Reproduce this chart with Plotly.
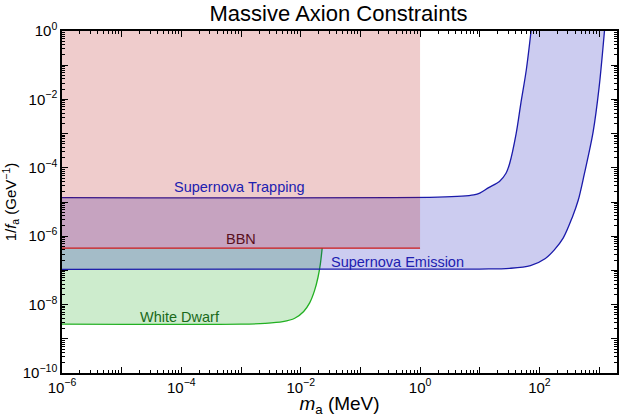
import plotly.graph_objects as go

# ---- data (values in MeV and GeV^-1) ----
wd_mass_exp = [-6, -3, -2.6, -2.3, -2.1, -1.95, -1.85, -1.77, -1.71, -1.67, -1.64]
wd_coup_exp = [-8.57, -8.57, -8.55, -8.5, -8.4, -8.2, -7.95, -7.6, -7.2, -6.8, -6.35]

bbn_mass = [1e-6, 1.0]
bbn_coup = 10 ** -6.35
top_coup = 1.0

sn_low_mass_exp = [-6, 1.0, 1.5, 1.85, 2.1, 2.25, 2.4, 2.55, 2.65, 2.75, 2.9, 3.0, 3.09]
sn_low_coup_exp = [-6.97, -6.96, -6.94, -6.86, -6.65, -6.4, -6.05, -5.45, -4.95, -4.2, -2.95, -1.65, 0]

sn_up_mass_exp = [-6, 0.3, 0.7, 0.9, 1.0, 1.15, 1.33, 1.44, 1.5, 1.61, 1.69, 1.78, 1.86]
sn_up_coup_exp = [-4.87, -4.86, -4.83, -4.79, -4.74, -4.58, -4.40, -4.16, -3.88, -3.0, -2.1, -1.14, 0]

labels = ["Supernova Trapping", "BBN", "White Dwarf", "Supernova Emission"]
label_x_exp = [-3.02, -3.0, -4.02, -0.37]
label_y_exp = [-4.56, -6.08, -8.35, -6.75]
label_colors = ["#2020b0", "#5a1020", "#1a6a1a", "#2020b0"]

x_tick_exp = list(range(-6, 4))
y_tick_exp = list(range(-10, 1))

# ---- derived ----
wd_m = [10 ** e for e in wd_mass_exp]
wd_c = [10 ** e for e in wd_coup_exp]
snl_m = [10 ** e for e in sn_low_mass_exp]
snl_c = [10 ** e for e in sn_low_coup_exp]
snu_m = [10 ** e for e in sn_up_mass_exp]
snu_c = [10 ** e for e in sn_up_coup_exp]

RED_FILL = "rgba(175,0,0,0.2)"
BLUE_FILL = "rgba(0,0,180,0.2)"
GREEN_FILL = "rgba(5,160,5,0.2)"
FONT = "Liberation Sans, Arial, sans-serif"
SPL = dict(shape="spline", smoothing=0.9, simplify=False)

fig = go.Figure()

# White dwarf region (green): top edge at BBN level, then WD curve filled to it
fig.add_trace(go.Scatter(x=[wd_m[0], wd_m[-1]], y=[bbn_coup, bbn_coup], mode="lines",
                         line=dict(width=0, color="rgba(0,0,0,0)"), hoverinfo="skip"))
fig.add_trace(go.Scatter(x=wd_m, y=wd_c, mode="lines", fill="tonexty", fillcolor=GREEN_FILL,
                         line=dict(color="#22b022", width=1.3, **SPL),
                         hoverinfo="skip"))

# Supernova region (blue): polygon between emission (lower) and trapping (upper) curves
# (corner points repeated so the smoothed outline keeps sharp corners)
poly_x = [snl_m[0]] + snl_m + [snl_m[-1]] + [snu_m[-1]] + snu_m[::-1] + [snu_m[0]]
poly_y = [snl_c[0]] + snl_c + [snl_c[-1]] + [snu_c[-1]] + snu_c[::-1] + [snu_c[0]]
fig.add_trace(go.Scatter(x=poly_x, y=poly_y, mode="lines",
                         fill="toself", fillcolor=BLUE_FILL,
                         line=dict(width=0, color="rgba(0,0,0,0)", **SPL), hoverinfo="skip"))
fig.add_trace(go.Scatter(x=snu_m, y=snu_c, mode="lines",
                         line=dict(color="#1a1aaa", width=1.3, **SPL), hoverinfo="skip"))
fig.add_trace(go.Scatter(x=snl_m, y=snl_c, mode="lines",
                         line=dict(color="#1a1aaa", width=1.3, **SPL), hoverinfo="skip"))

# BBN region (red)
fig.add_trace(go.Scatter(
    x=[bbn_mass[0], bbn_mass[1], bbn_mass[1], bbn_mass[0], bbn_mass[0]],
    y=[bbn_coup, bbn_coup, top_coup, top_coup, bbn_coup],
    fill="toself", fillcolor=RED_FILL, mode="none", hoverinfo="skip"))
fig.add_trace(go.Scatter(x=bbn_mass, y=[bbn_coup, bbn_coup], mode="lines",
                         line=dict(color="#cc1a1a", width=1.3), hoverinfo="skip"))

for t, lx, ly, c in zip(labels, label_x_exp, label_y_exp, label_colors):
    fig.add_annotation(x=lx, y=ly, text=t, showarrow=False,
                       font=dict(color=c, size=14.5, family=FONT))

def sup(e):
    return "10<sup>" + (("\u2212" + str(-e)) if e < 0 else str(e)) + "</sup>"

x_minor = [m * 10 ** e for e in range(-6, 4) for m in range(2, 10) if m * 10 ** e <= 10 ** 3.3]
y_minor = [m * 10 ** e for e in range(-10, 0) for m in range(2, 10)]

axis_common = dict(type="log", showgrid=False, zeroline=False, showline=True,
                   linecolor="black", linewidth=1.5, mirror="ticks", automargin=False,
                   ticks="inside", ticklen=6, tickwidth=1.2, tickcolor="black",
                   tickfont=dict(size=15, color="black", family=FONT))

fig.update_xaxes(**axis_common, range=[-6, 3.3],
                 tickmode="array", tickvals=[10 ** e for e in x_tick_exp],
                 ticktext=[sup(e) if e % 2 == 0 else "" for e in x_tick_exp],
                 minor=dict(tickmode="array", tickvals=x_minor, ticks="inside",
                            ticklen=3, tickcolor="black", tickwidth=1, showgrid=False),
                 title=dict(text="<i>m</i><sub>a</sub> (MeV)", standoff=4,
                            font=dict(size=19, color="black", family=FONT)))
fig.update_yaxes(**axis_common, range=[-10, 0],
                 tickmode="array", tickvals=[10 ** e for e in y_tick_exp],
                 ticktext=[sup(e) if e % 2 == 0 else "" for e in y_tick_exp],
                 minor=dict(tickmode="array", tickvals=y_minor, ticks="inside",
                            ticklen=3, tickcolor="black", tickwidth=1, showgrid=False),
                 title=dict(text="1/<i>f</i><sub>a</sub> (GeV<sup>\u22121</sup>)", standoff=4,
                            font=dict(size=15, color="black", family=FONT)))

fig.update_layout(
    width=640, height=417,
    margin=dict(l=62, r=23, t=31, b=44),
    paper_bgcolor="white", plot_bgcolor="white",
    showlegend=False,
    title=dict(text="Massive Axion Constraints", x=0.529, xanchor="center",
               y=0.968, yanchor="middle",
               font=dict(size=22, color="black", family=FONT)),
)

fig.write_html("out.html", config={"displayModeBar": False},
               post_script="document.body.style.margin='0';")
